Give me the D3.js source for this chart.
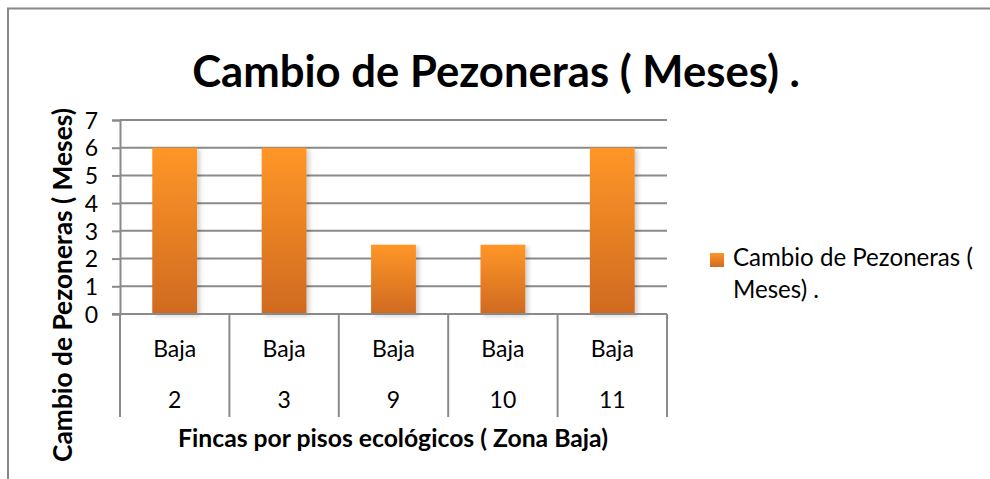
<!DOCTYPE html>
<html>
<head>
<meta charset="utf-8">
<script src="https://cdn.jsdelivr.net/npm/d3@7"></script>
<style>
  body { margin: 0; background: #fff; }
  text { font-family: Lato, "Open Sans", sans-serif; fill: #000; }
</style>
</head>
<body>
<svg id="chart"></svg>
<script>
// chart data
const zonas = ["Baja", "Baja", "Baja", "Baja", "Baja"];
const fincas = ["2", "3", "9", "10", "11"];
const meses = [6, 6, 2.5, 2.5, 6];
const yTicks = [0, 1, 2, 3, 4, 5, 6, 7];

const titleText = "Cambio de Pezoneras ( Meses) .";
const xTitle = "Fincas por pisos ecológicos ( Zona Baja)";
const yTitle = "Cambio de Pezoneras ( Meses)";
const legendLines = ["Cambio de Pezoneras (", "Meses) ."];

const W = 990, H = 479;
const plot = {left: 120, right: 667, top: 120, bottom: 314};

const svg = d3.select('#chart').attr('width', W).attr('height', H);

// gradient for the bars
const defs = svg.append('defs');
const grad = defs.append('linearGradient')
    .attr('id', 'barGrad').attr('x1', 0).attr('y1', 0).attr('x2', 0).attr('y2', 1);
grad.append('stop').attr('offset', '0%').attr('stop-color', '#ff9628');
grad.append('stop').attr('offset', '100%').attr('stop-color', '#cf6a1f');
const filt = defs.append('filter').attr('id', 'shadow')
    .attr('x', '-20%').attr('y', '-10%').attr('width', '150%').attr('height', '130%');
filt.append('feDropShadow').attr('dx', 3).attr('dy', 2).attr('stdDeviation', 2)
    .attr('flood-color', '#000').attr('flood-opacity', 0.18);

// outer frame
svg.append('path')
    .attr('d', 'M8,' + H + ' V8.5 H' + W)
    .attr('fill', 'none').attr('stroke', '#888').attr('stroke-width', 2);

// helper: pick font size so text gets a given width
function fit(sel, width) {
    const len = sel.node().getComputedTextLength();
    const fs = parseFloat(sel.attr('font-size'));
    const nfs = fs * width / len;
    sel.attr('font-size', nfs);
    return nfs;
}

// title
const t = svg.append('text')
    .attr('x', 496).attr('y', 87)
    .attr('text-anchor', 'middle').attr('font-weight', 'bold').attr('font-size', 38)
    .text(titleText);
fit(t, 608);

// scales
const x = d3.scaleBand().domain(d3.range(meses.length))
    .range([plot.left, plot.right]).paddingInner(0).paddingOuter(0);
const y = d3.scaleLinear().domain([0, 7]).range([plot.bottom, plot.top]);

// gridlines + y axis
const yAxis = d3.axisLeft(y).tickValues(yTicks).tickSize(8).tickFormat(d3.format('d'));
const gy = svg.append('g').attr('transform', 'translate(' + plot.left + ',0)').call(yAxis);
gy.select('.domain').attr('stroke', '#8a8a8a').attr('stroke-width', 2);
gy.selectAll('.tick line').attr('stroke', '#8a8a8a').attr('stroke-width', 2);
gy.selectAll('.tick text').attr('font-size', 23).attr('x', -22).attr('dy', '0.36em')
    .style('font-family', 'Lato, sans-serif').attr('fill', '#000');

svg.append('g').selectAll('line.grid')
    .data(yTicks.filter(d => d > 0))
    .enter().append('line')
    .attr('x1', plot.left).attr('x2', plot.right)
    .attr('y1', d => y(d)).attr('y2', d => y(d))
    .attr('stroke', '#8a8a8a').attr('stroke-width', 2);

// bars
const bw = x.bandwidth() * 0.41;
svg.append('g').selectAll('rect')
    .data(meses)
    .enter().append('rect')
    .attr('x', (d, i) => x(i) + x.bandwidth() / 2 - bw / 2)
    .attr('y', d => y(d))
    .attr('width', bw)
    .attr('height', d => y(0) - y(d))
    .attr('fill', 'url(#barGrad)')
    .attr('filter', 'url(#shadow)');

// x axis baseline
svg.append('line')
    .attr('x1', plot.left - 8).attr('x2', plot.right)
    .attr('y1', plot.bottom).attr('y2', plot.bottom)
    .attr('stroke', '#8a8a8a').attr('stroke-width', 2);

// category dividers (multi-level axis)
const edges = d3.range(meses.length + 1).map(i => i < meses.length ? x(i) : x(i - 1) + x.bandwidth());
svg.append('g').selectAll('line')
    .data(edges)
    .enter().append('line')
    .attr('x1', d => d).attr('x2', d => d)
    .attr('y1', plot.bottom).attr('y2', 417)
    .attr('stroke', '#8a8a8a').attr('stroke-width', 2);

// category labels
svg.append('g').selectAll('text')
    .data(zonas)
    .enter().append('text')
    .attr('x', (d, i) => x(i) + x.bandwidth() / 2)
    .attr('y', 357)
    .attr('text-anchor', 'middle').attr('font-size', 23)
    .text(d => d);
svg.append('g').selectAll('text')
    .data(fincas)
    .enter().append('text')
    .attr('x', (d, i) => x(i) + x.bandwidth() / 2)
    .attr('y', 408)
    .attr('text-anchor', 'middle').attr('font-size', 23)
    .text(d => d);

// axis titles
const xt = svg.append('text')
    .attr('x', 393).attr('y', 447)
    .attr('text-anchor', 'middle').attr('font-weight', 'bold').attr('font-size', 19)
    .text(xTitle);
fit(xt, 430);

const yt = svg.append('text')
    .attr('transform', 'translate(72,285) rotate(-90)')
    .attr('text-anchor', 'middle').attr('font-weight', 'bold').attr('font-size', 19)
    .text(yTitle);
fit(yt, 354);

// legend
svg.append('rect')
    .attr('x', 710).attr('y', 253).attr('width', 14).attr('height', 14)
    .attr('fill', 'url(#barGrad)');
const lg = svg.append('g').selectAll('text')
    .data(legendLines)
    .enter().append('text')
    .attr('x', 733)
    .attr('y', (d, i) => 266 + i * 32)
    .attr('font-size', 22)
    .text(d => d);
const lfs = fit(lg.filter((d, i) => i === 0), 240);
lg.attr('font-size', lfs);
</script>
</body>
</html>
